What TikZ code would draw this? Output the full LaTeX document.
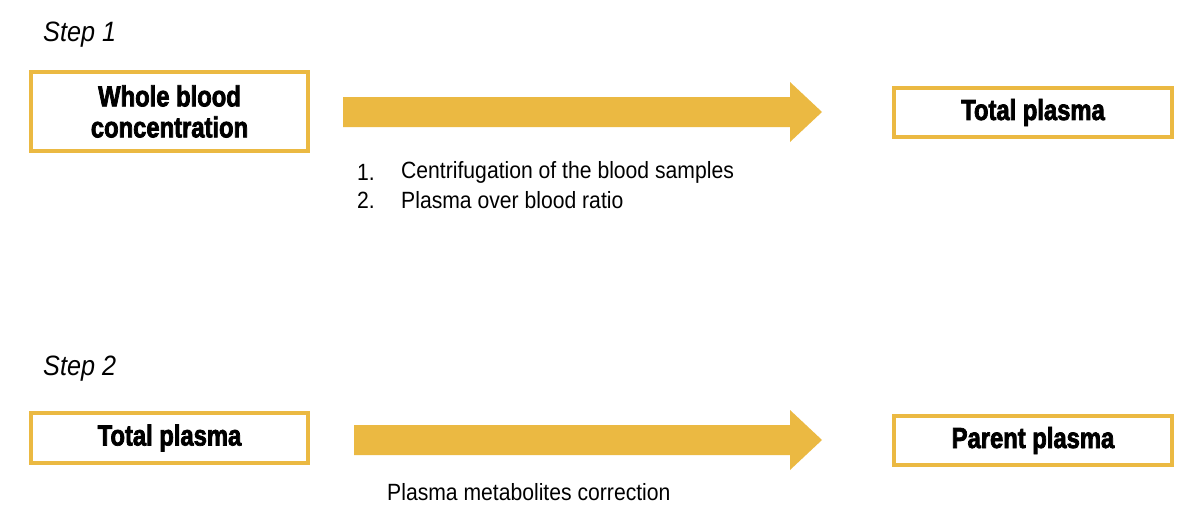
\documentclass[tikz,border=0pt]{standalone}
\usepackage{fontspec}
\setmainfont{Liberation Sans}
\newfontfamily\boxfont[FakeStretch=0.82,FakeBold=2.5]{Liberation Sans Bold}
\newfontfamily\normfont[FakeStretch=0.9]{Liberation Sans}
\definecolor{gold}{HTML}{EBB942}
\begin{document}
\begin{tikzpicture}[x=1pt,y=-1pt,
  gbox/.style={draw=gold,line width=4pt,fill=white,inner sep=0pt,font=\boxfont\fontsize{29}{31}\selectfont,align=center},
  lbl/.style={anchor=west,inner sep=0pt,font=\normfont\fontsize{23.5}{26}\selectfont},
  stp/.style={anchor=west,inner sep=0pt,font=\normfont\itshape\fontsize{28}{30}\selectfont}]
\useasboundingbox (0,0) rectangle (1184,514);
\node[stp] (s1) at (43,35) {Step 1};
\node[stp] (s2) at (43,369) {Step 2};
\node[gbox,minimum width=277pt,minimum height=79pt] (a) at (169.5,111.5) {Whole blood\\concentration};
\node[gbox,minimum width=278pt,minimum height=49pt] (b) at (1033,112.5) {Total plasma};
\node[gbox,minimum width=277pt,minimum height=50pt] (c) at (169.5,438) {Total plasma};
\node[gbox,minimum width=278pt,minimum height=49pt] (d) at (1033,440.5) {Parent plasma};
\fill[gold] (343,97) -- (790,97) -- (790,82) -- (822,112) -- (790,142) -- (790,127) -- (343,127) -- cycle;
\fill[gold] (354,425) -- (790,425) -- (790,410) -- (822,440) -- (790,470) -- (790,455) -- (354,455) -- cycle;
\node[lbl] (n1) at (357,172) {1.};
\node[lbl] (l1) at (401,172) {Centrifugation of the blood samples};
\node[lbl] (n2) at (357,200) {2.};
\node[lbl] (l2) at (401,200) {Plasma over blood ratio};
\node[lbl] (l3) at (387,492) {Plasma metabolites correction};
\end{tikzpicture}
\end{document}
